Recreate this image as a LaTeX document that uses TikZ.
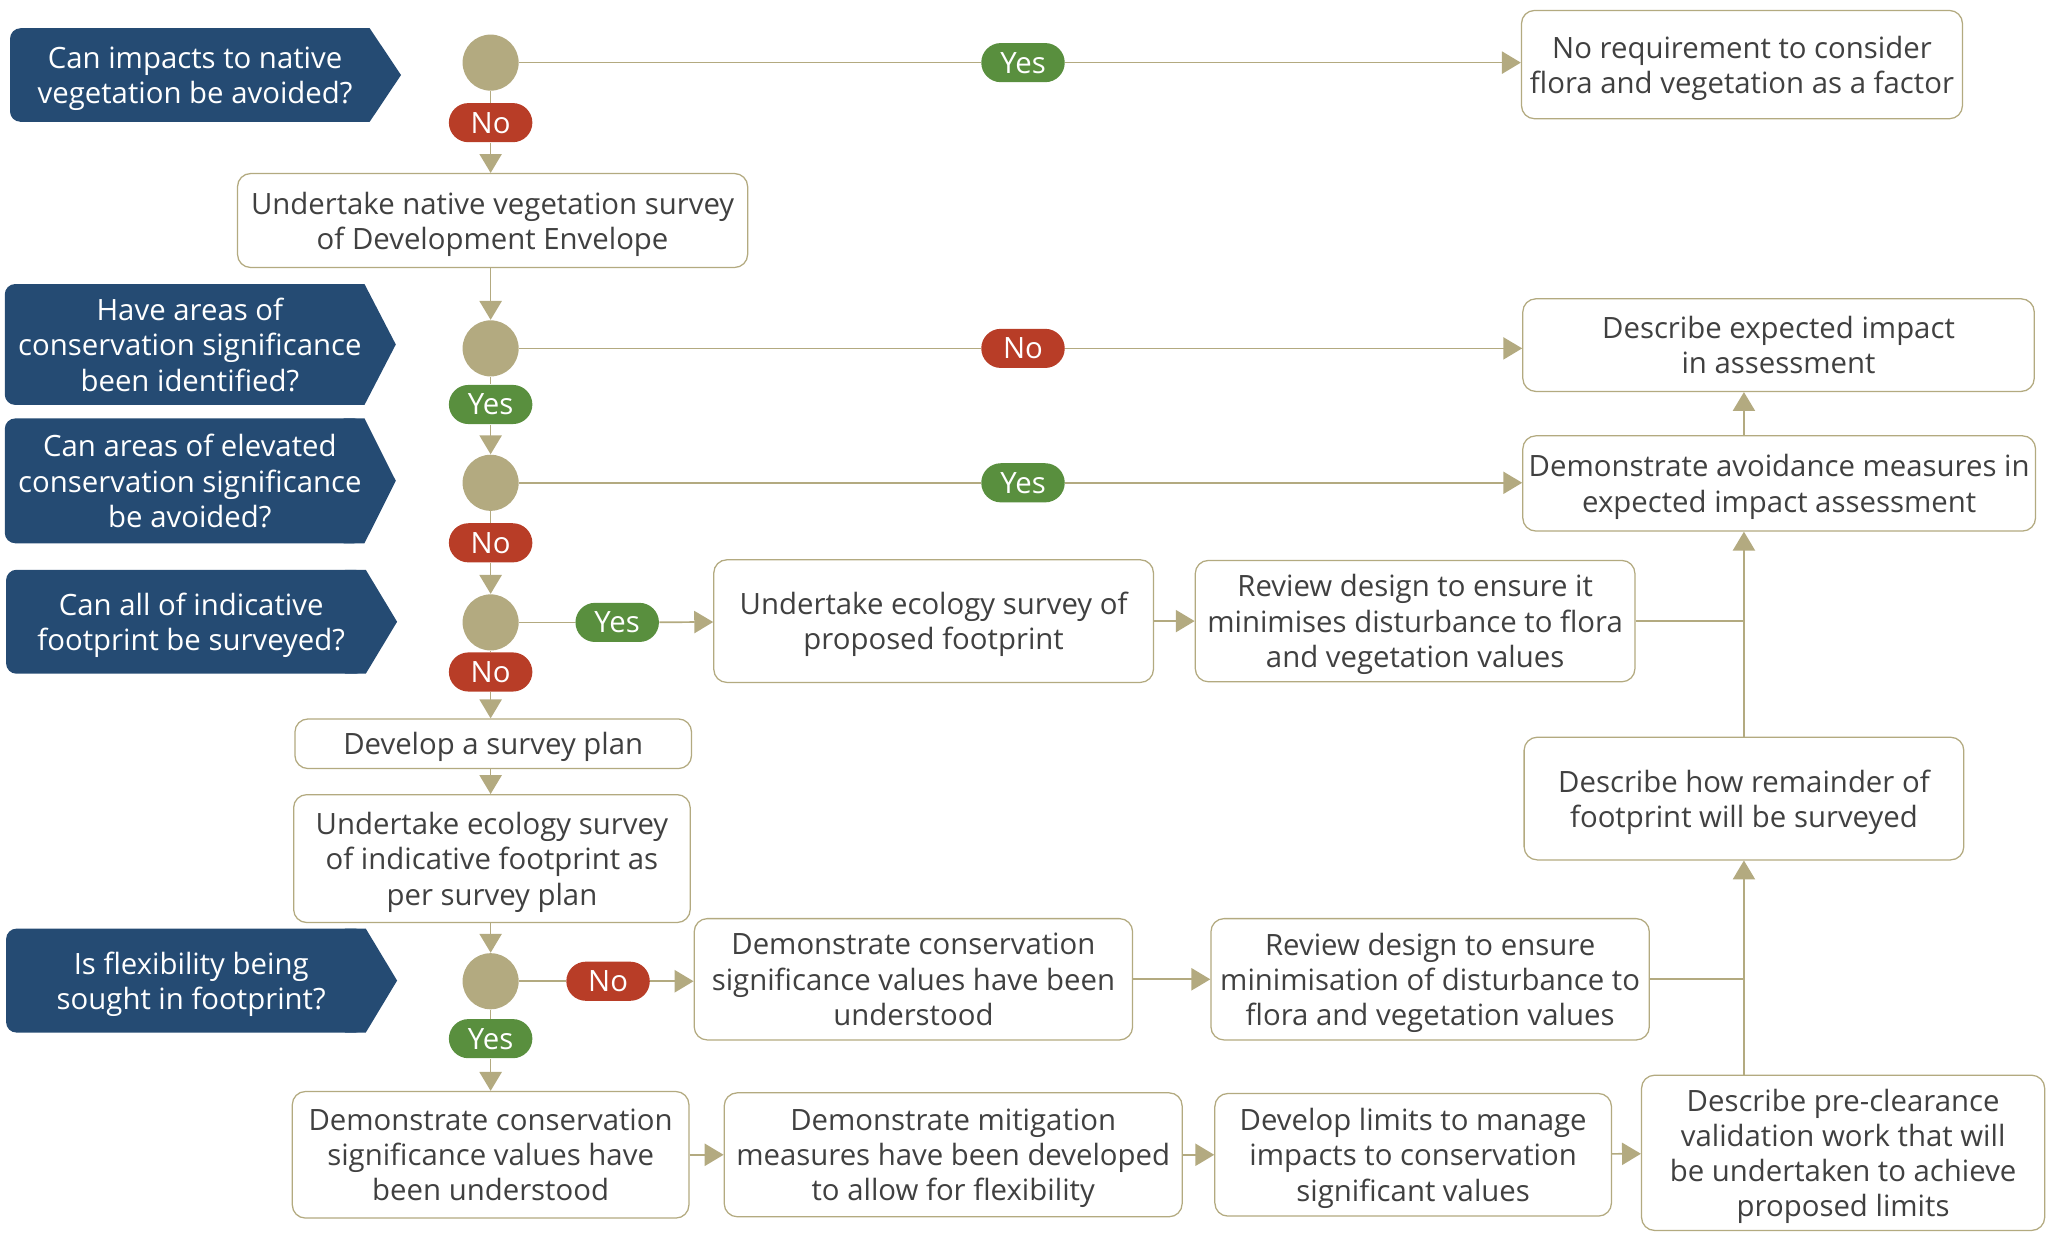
\documentclass[tikz,border=0pt]{standalone}
\usepackage{fontspec}
\setmainfont{Open Sans}
\usetikzlibrary{arrows.meta, backgrounds, calc}

\definecolor{tagblue}{RGB}{37,75,115}
\definecolor{linetan}{RGB}{179,170,128}
\definecolor{nored}{RGB}{184,61,39}
\definecolor{yesgreen}{RGB}{89,143,62}
\definecolor{txtgray}{RGB}{64,64,64}

\tikzset{
	tag/.style={text depth=-0.8pt, text=white, align=center, minimum width=5.5cm, inner sep=0pt},
	dec/.style={circle, fill=linetan, minimum size=0.86cm, inner sep=0pt},
	box/.style={text depth=-0.8pt, draw=linetan, line width=0.55pt, fill=white, rounded corners=0.2cm, align=center, text=txtgray, inner sep=0pt},
	pill/.style={text depth=-0.8pt, rounded corners=0.3cm, minimum width=1.28cm, minimum height=0.6cm, inner sep=0pt, text=white},
	nopill/.style={pill, fill=nored},
	yespill/.style={pill, fill=yesgreen},
	flow/.style={draw=linetan, line width=0.75pt},
	arr/.style={flow, -{Triangle[length=0.29cm, width=0.34cm]}}
}

\begin{document}
\begin{tikzpicture}[x=0.02cm, y=-0.02cm, font=\fontsize{12.8pt}{15.4pt}\selectfont]
	\useasboundingbox (0,0) rectangle (1568,944.4);

	% Questions
	\node[tag, minimum height=1.42cm] (q1) at (149.5,57.5) {Can impacts to native\\vegetation be avoided?};
	\node[tag, minimum height=1.84cm] (q2) at (145.5,264) {Have areas of\\conservation significance\\been identified?};
	\node[tag, minimum height=1.9cm] (q3) at (145.5,368.5) {Can areas of elevated\\conservation significance\\be avoided?};
	\node[tag, minimum height=1.58cm] (q4) at (146.5,476.5) {Can all of indicative\\footprint be surveyed?};
	\node[tag, minimum height=1.58cm] (q5) at (146.5,751.5) {Is flexibility being\\sought in footprint?};
	\begin{scope}[on background layer]
		\foreach \q in {q1,q2,q3,q4,q5} {
			\fill[tagblue, rounded corners=0.16cm] ($(\q.south west)+(-4,0)$) rectangle ($(\q.north east)+(-4,0)$);
			\fill[tagblue] ($(\q.north east)+(-20,0)$) -- ($(\q.north east)+(-4,0)$) -- ($(\q.east)+(20,0)$) -- ($(\q.south east)+(-4,0)$) -- ($(\q.south east)+(-20,0)$) -- cycle;
		}
	\end{scope}

	% Decisions
	\node[dec] (c1) at (376,48) {};
	\node[dec] (c2) at (376,267) {};
	\node[dec] (c3) at (376,370) {};
	\node[dec] (c4) at (376,477) {};
	\node[dec] (c5) at (376,752) {};

	% Answers
	\node[nopill] (no1) at (376,94) {No};
	\node[yespill] (yes1) at (784,48) {Yes};
	\node[nopill] (no2) at (784,267) {No};
	\node[yespill] (yes2) at (376,310) {Yes};
	\node[yespill] (yes3) at (784,370) {Yes};
	\node[nopill] (no3) at (376,416) {No};
	\node[yespill] (yes4) at (473,477) {Yes};
	\node[nopill] (no4) at (376,515) {No};
	\node[nopill] (no5) at (466,752) {No};
	\node[yespill] (yes5) at (376,796) {Yes};

	% Steps
	\node[box, minimum width=6.76cm, minimum height=1.66cm] (b1) at (1335,49.5) {No requirement to consider\\flora and vegetation as a factor};
	\node[box, minimum width=7.82cm, minimum height=1.44cm] (b2) at (377.5,169) {Undertake native vegetation survey\\of Development Envelope};
	\node[box, minimum width=7.84cm, minimum height=1.42cm] (b3) at (1363,264.5) {Describe expected impact\\in assessment};
	\node[box, minimum width=7.86cm, minimum height=1.46cm] (b4) at (1363.5,370.5) {Demonstrate avoidance measures in\\expected impact assessment};
	\node[box, minimum width=6.74cm, minimum height=1.88cm] (b5) at (715.5,476) {Undertake ecology survey of\\proposed footprint};
	\node[box, minimum width=6.74cm, minimum height=1.86cm] (b6) at (1084.5,476) {Review design to ensure it\\minimises disturbance to flora\\and vegetation values};
	\node[box, minimum width=6.08cm, minimum height=0.76cm] (b7) at (378,570) {Develop a survey plan};
	\node[box, minimum width=6.08cm, minimum height=1.96cm] (b8) at (377,658) {Undertake ecology survey\\of indicative footprint as\\per survey plan};
	\node[box, minimum width=6.74cm, minimum height=1.88cm] (b9) at (1336.5,612) {Describe how remainder of\\footprint will be surveyed};
	\node[box, minimum width=6.72cm, minimum height=1.86cm] (b10) at (700,750.5) {Demonstrate conservation\\significance values have been\\understood};
	\node[box, minimum width=6.72cm, minimum height=1.86cm] (b11) at (1096,750.5) {Review design to ensure\\minimisation of disturbance to\\flora and vegetation values};
	\node[box, minimum width=6.08cm, minimum height=1.94cm] (b12) at (376,885) {Demonstrate conservation\\significance values have\\been understood};
	\node[box, minimum width=7.02cm, minimum height=1.9cm] (b13) at (730.5,885) {Demonstrate mitigation\\measures have been developed\\to allow for flexibility};
	\node[box, minimum width=6.08cm, minimum height=1.88cm] (b14) at (1083,885) {Develop limits to manage\\impacts to conservation\\significant values};
	\node[box, minimum width=6.18cm, minimum height=2.38cm] (b15) at (1412.5,883.5) {Describe pre-clearance\\validation work that will\\be undertaken to achieve\\proposed limits};

	% Edges
	\draw[flow] (c1) -- (yes1);
	\draw[arr] (yes1) -- (yes1 -| b1.west);
	\draw[flow] (c1) -- (no1);
	\draw[arr] (no1) -- (no1 |- b2.north);
	\draw[arr] (b2.south -| c2) -- (c2);
	\draw[flow] (c2) -- (no2);
	\draw[arr] (no2) -- (no2 -| b3.west);
	\draw[flow] (c2) -- (yes2);
	\draw[arr] (yes2) -- (c3);
	\draw[flow] (c3) -- (yes3);
	\draw[arr] (yes3) -- (yes3 -| b4.west);
	\draw[flow] (c3) -- (no3);
	\draw[arr] (no3) -- (c4);
	\draw[flow] (c4) -- (yes4);
	\draw[arr] (yes4) -- (b5);
	\draw[arr] (b5) -- (b6);
	\draw[flow] (b6) -- (b6 -| b9);
	\draw[flow] (c4) -- (no4);
	\draw[arr] (no4) -- (no4 |- b7.north);
	\draw[arr] (b7.south -| c5) -- (b8.north -| c5);
	\draw[arr] (b8.south -| c5) -- (c5);
	\draw[flow] (c5) -- (no5);
	\draw[arr] (no5) -- (no5 -| b10.west);
	\draw[arr] (b10) -- (b11);
	\draw[flow] (b11) -- (b11 -| b9);
	\draw[flow] (c5) -- (yes5);
	\draw[arr] (yes5) -- (yes5 |- b12.north);
	\draw[arr] (b12) -- (b13);
	\draw[arr] (b13) -- (b14);
	\draw[arr] (b14) -- (b15);
	\draw[arr] (b15.north -| b9) -- (b9);
	\draw[arr] (b9) -- (b4.south -| b9);
	\draw[arr] (b4.north -| b9) -- (b3.south -| b9);
\end{tikzpicture}
\end{document}
